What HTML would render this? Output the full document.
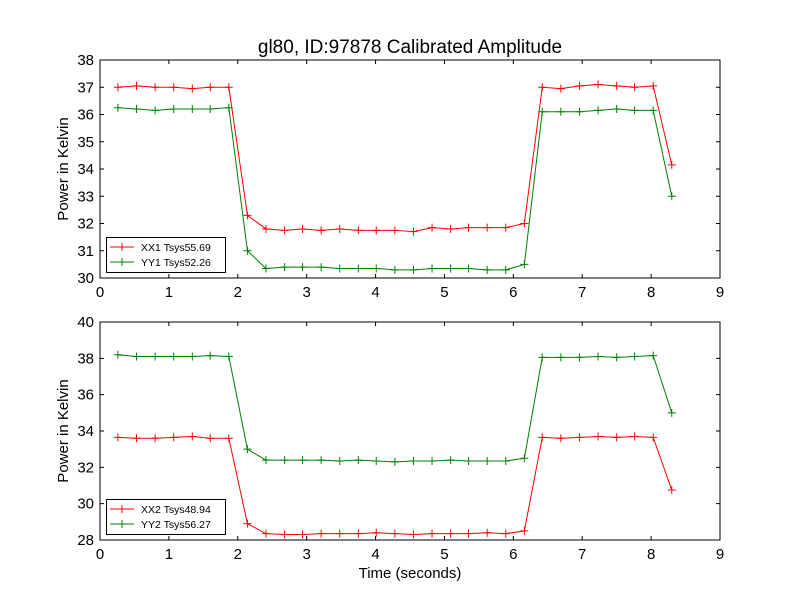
<!DOCTYPE html>
<html><head><meta charset="utf-8"><style>
body{margin:0;background:#fff;}
svg{display:block;font-family:"Liberation Sans","DejaVu Sans",sans-serif;}
</style></head><body>
<svg id="chart" width="800" height="600" viewBox="0 0 800 600">
<rect width="800" height="600" fill="#fff"/>
<text x="410" y="53" font-size="19" text-anchor="middle">gl80, ID:97878 Calibrated Amplitude</text>
<g id="top"></g>
<g id="bot"></g>
<text x="410" y="578" font-size="15" text-anchor="middle">Time (seconds)</text>
</svg>
<script>
const times=[0.26,0.53,0.8,1.07,1.34,1.6,1.87,2.14,2.41,2.68,2.94,3.21,3.48,3.75,4.01,4.28,4.55,4.82,5.09,5.35,5.62,5.89,6.16,6.42,6.69,6.96,7.23,7.50,7.76,8.03,8.30];
const xx1=[37.0,37.05,37.0,37.0,36.95,37.0,37.0,32.3,31.8,31.75,31.8,31.75,31.8,31.75,31.75,31.75,31.7,31.85,31.8,31.85,31.85,31.85,32.0,37.0,36.95,37.05,37.1,37.05,37.0,37.05,34.15];
const yy1=[36.25,36.2,36.15,36.2,36.2,36.2,36.25,31.0,30.35,30.4,30.4,30.4,30.35,30.35,30.35,30.3,30.3,30.35,30.35,30.35,30.3,30.3,30.5,36.1,36.1,36.1,36.15,36.2,36.15,36.15,33.0];
const xx2=[33.65,33.6,33.6,33.65,33.7,33.6,33.6,28.9,28.35,28.3,28.3,28.35,28.35,28.35,28.4,28.35,28.3,28.35,28.35,28.35,28.4,28.35,28.5,33.65,33.6,33.65,33.7,33.65,33.7,33.65,30.75];
const yy2=[38.2,38.1,38.1,38.1,38.1,38.15,38.1,33.0,32.4,32.4,32.4,32.4,32.35,32.4,32.35,32.3,32.35,32.35,32.4,32.35,32.35,32.35,32.5,38.05,38.05,38.05,38.1,38.05,38.1,38.15,35.0];
const xTicks=[0,1,2,3,4,5,6,7,8,9];
const topYTicks=[30,31,32,33,34,35,36,37,38];
const botYTicks=[28,30,32,34,36,38,40];
const NS="http://www.w3.org/2000/svg";
function mk(p,t,a){const e=document.createElementNS(NS,t);for(const k in a)e.setAttribute(k,a[k]);p.appendChild(e);return e;}
function panel(g,top,bottom,ymin,ymax,yt,series,legend){
  const L=100,R=720;
  const sx=v=>L+(v-0)/(9-0)*(R-L);
  const sy=v=>bottom-(v-ymin)/(ymax-ymin)*(bottom-top);
  xTicks.forEach(t=>{
    const x=sx(t);
    const tk=mk(g,'path',{d:`M${x},${bottom}v-4M${x},${top}v4`,stroke:'#000','stroke-width':1});
    
    const tl=mk(g,'text',{x:x,y:bottom+19,'font-size':15,'text-anchor':'middle'});tl.textContent=t;
    
  });
  yt.forEach(t=>{
    const y=sy(t);
    const tk=mk(g,'path',{d:`M${L},${y}h4M${R},${y}h-4`,stroke:'#000','stroke-width':1});
    
    const tl=mk(g,'text',{x:L-6,y:y+5,'font-size':15,'text-anchor':'end'});tl.textContent=t;
    
  });
  const yl=mk(g,'text',{x:0,y:0,'font-size':15,'text-anchor':'middle',transform:`translate(68,${(top+bottom)/2}) rotate(-90)`});
  yl.textContent='Power in Kelvin';
  
  series.forEach(s=>{
    const pts=times.map((t,i)=>[sx(t),sy(s.v[i])]);
    const ln=mk(g,'polyline',{points:pts.map(p=>p.join(',')).join(' '),fill:'none',stroke:s.c,'stroke-width':1});
    
    pts.forEach(p=>{
      const m=mk(g,'path',{d:`M${p[0]-4},${p[1]}h8M${p[0]},${p[1]-4}v8`,stroke:s.c,'stroke-width':1});
      
    });
  });
  const fr=mk(g,'rect',{x:L,y:top,width:R-L,height:bottom-top,fill:'none',stroke:'#000','stroke-width':1});
  
  const lg=mk(g,'g',{});
  
  const ly=legend;
  mk(lg,'rect',{x:106.5,y:ly+0.5,width:119,height:35,fill:'#fff',stroke:'#000','stroke-width':1});
  series.forEach((s,i)=>{
    const y=ly+10+i*15;
    mk(lg,'path',{d:`M110,${y}h24M122,${y-4}v8`,stroke:s.c,'stroke-width':1});
    const t=mk(lg,'text',{x:141,y:y+4,'font-size':10.5});t.textContent=s.label;
    
  });
}
panel(document.getElementById('top'),60,278,30,38,topYTicks,[
 {v:xx1,c:'#ff0000',n:'xx1',label:'XX1 Tsys55.69'},
 {v:yy1,c:'#008000',n:'yy1',label:'YY1 Tsys52.26'}],237);
panel(document.getElementById('bot'),322,540,28,40,botYTicks,[
 {v:xx2,c:'#ff0000',n:'xx2',label:'XX2 Tsys48.94'},
 {v:yy2,c:'#008000',n:'yy2',label:'YY2 Tsys56.27'}],499);
</script>
</body></html>
